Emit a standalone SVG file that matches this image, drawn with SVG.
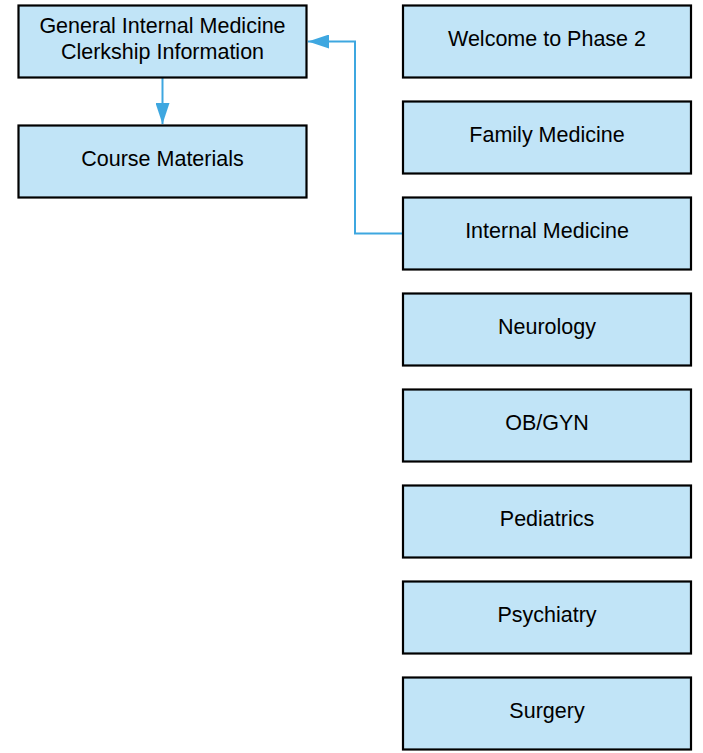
<svg xmlns="http://www.w3.org/2000/svg" width="703" height="753" viewBox="0 0 703 753">
<style>
.box{fill:#c1e4f7;stroke:#000;stroke-width:2.2}
.t{font-family:"Liberation Sans",Arial,sans-serif;font-size:21.5px;fill:#000;text-anchor:middle}
.c{fill:none;stroke:#3ea7e0;stroke-width:2}
</style>
<defs>
<marker id="ah" markerWidth="21" markerHeight="14" refX="21" refY="7" orient="auto" markerUnits="userSpaceOnUse" viewBox="0 0 21 14">
<path d="M0,0 L21,7 L0,14 Z" fill="#3ea7e0"/>
</marker>
</defs>
<rect width="703" height="753" fill="#fff"/>
<g id="connectors">
<path class="c" d="M162.5,78 V124" marker-end="url(#ah)"/>
<path class="c" d="M403,233.5 H355 V41.5 H308" marker-end="url(#ah)"/>
</g>
<g id="gim"><rect class="box" x="18.5" y="5.5" width="288" height="72"/><text class="t" x="162.5" y="32.5">General Internal Medicine</text><text class="t" x="162.5" y="58.5">Clerkship Information</text></g>
<g id="course"><rect class="box" x="18.5" y="125.5" width="288" height="72"/><text class="t" x="162.5" y="165.5">Course Materials</text></g>
<g id="welcome"><rect class="box" x="403" y="5.5" width="288" height="72"/><text class="t" x="547" y="45.5">Welcome to Phase 2</text></g>
<g id="family"><rect class="box" x="403" y="101.5" width="288" height="72"/><text class="t" x="547" y="141.5">Family Medicine</text></g>
<g id="internal"><rect class="box" x="403" y="197.5" width="288" height="72"/><text class="t" x="547" y="237.5">Internal Medicine</text></g>
<g id="neuro"><rect class="box" x="403" y="293.5" width="288" height="72"/><text class="t" x="547" y="333.5">Neurology</text></g>
<g id="obgyn"><rect class="box" x="403" y="389.5" width="288" height="72"/><text class="t" x="547" y="429.5">OB/GYN</text></g>
<g id="peds"><rect class="box" x="403" y="485.5" width="288" height="72"/><text class="t" x="547" y="525.5">Pediatrics</text></g>
<g id="psych"><rect class="box" x="403" y="581.5" width="288" height="72"/><text class="t" x="547" y="621.5">Psychiatry</text></g>
<g id="surgery"><rect class="box" x="403" y="677.5" width="288" height="72"/><text class="t" x="547" y="717.5">Surgery</text></g>
</svg>
